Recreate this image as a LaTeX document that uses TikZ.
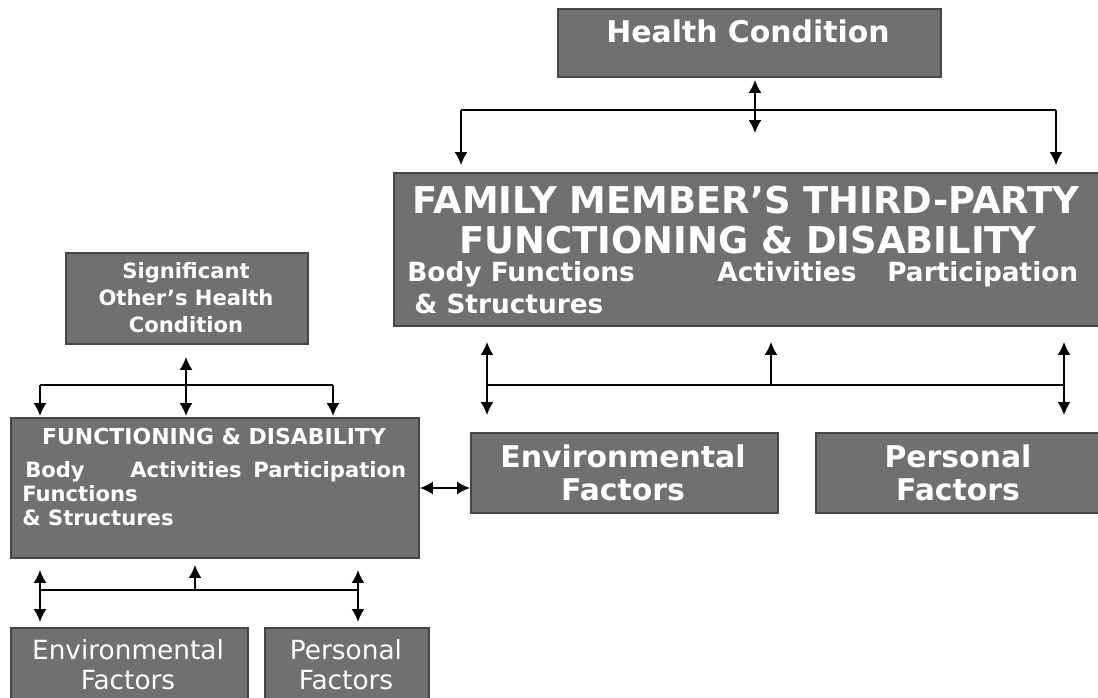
\documentclass[tikz,border=0pt]{standalone}
\usepackage{fontspec}
\setmainfont{DejaVu Sans}
\usetikzlibrary{arrows.meta,calc}
\definecolor{boxfill}{RGB}{112,112,112}
\definecolor{boxline}{RGB}{70,70,70}
\begin{document}
\begin{tikzpicture}[x=0.02cm,y=-0.02cm,
  box/.style={draw=boxline,line width=0.04cm,fill=boxfill,inner sep=0pt,anchor=north west},
  txt/.style={text=white,inner sep=0pt},
  conn/.style={line width=0.035cm,black},
  tip/.style={-{Latex[length=0.26cm,width=0.26cm]}},
  tips/.style={{Latex[length=0.26cm,width=0.26cm]}-{Latex[length=0.26cm,width=0.26cm]}}]
\useasboundingbox (0,0) rectangle (1098,697);
% boxes
\node[box,minimum width=7.66cm,minimum height=1.36cm] (hc) at (557,8) {};
\node[box,minimum width=14.14cm,minimum height=3.06cm] (fam) at (393,172) {};
\node[box,minimum width=4.84cm,minimum height=1.82cm] (sig) at (65,252) {};
\node[box,minimum width=8.16cm,minimum height=2.8cm] (fdl) at (10,417) {};
\node[box,minimum width=6.14cm,minimum height=1.6cm] (envr) at (470,432) {};
\node[box,minimum width=5.8cm,minimum height=1.6cm] (perr) at (815,432) {};
\node[box,minimum width=4.74cm,minimum height=1.5cm] (envl) at (10,627) {};
\node[box,minimum width=3.28cm,minimum height=1.5cm] (perl) at (264,627) {};
% texts
\node[txt,font=\bfseries\fontsize{17}{20}\selectfont] (hct) at (748,31) {Health Condition};
\node[txt,font=\bfseries\fontsize{21}{24}\selectfont] (fam1) at (746,200) {FAMILY MEMBER’S THIRD-PARTY};
\node[txt,font=\bfseries\fontsize{21}{24}\selectfont] (fam2) at (748,240) {FUNCTIONING \& DISABILITY};
\node[txt,font=\bfseries\fontsize{15}{18}\selectfont,anchor=base west] (fam3) at (407,281) {Body Functions};
\node[txt,font=\bfseries\fontsize{15}{18}\selectfont,anchor=base west] (fam4) at (717,281) {Activities};
\node[txt,font=\bfseries\fontsize{15}{18}\selectfont,anchor=base west] (fam5) at (887,281) {Participation};
\node[txt,font=\bfseries\fontsize{15}{18}\selectfont,anchor=base west] (fam6) at (414,313) {\& Structures};
\node[txt,font=\bfseries\fontsize{12}{15.3}\selectfont,align=center] (sigt) at (186,298) {Significant\\Other’s Health\\Condition};
\node[txt,font=\bfseries\fontsize{12.5}{15}\selectfont] (fdl1) at (214,436) {FUNCTIONING \& DISABILITY};
\node[txt,font=\bfseries\fontsize{12}{15}\selectfont,anchor=base west] (fdl2) at (25,477) {Body};
\node[txt,font=\bfseries\fontsize{12}{15}\selectfont,anchor=base west] (fdl3) at (130,477) {Activities};
\node[txt,font=\bfseries\fontsize{12}{15}\selectfont,anchor=base west] (fdl4) at (253,477) {Participation};
\node[txt,font=\bfseries\fontsize{12}{15}\selectfont,anchor=base west] (fdl5) at (22,501) {Functions};
\node[txt,font=\bfseries\fontsize{12}{15}\selectfont,anchor=base west] (fdl6) at (22,525) {\& Structures};
\node[txt,font=\bfseries\fontsize{17}{18.7}\selectfont,align=center] (envrt) at (623,473) {Environmental\\Factors};
\node[txt,font=\bfseries\fontsize{17}{18.7}\selectfont,align=center] (perrt) at (958,473) {Personal\\Factors};
\node[txt,font=\fontsize{15}{17}\selectfont,align=center] (envlt) at (128,665) {Environmental\\Factors};
\node[txt,font=\fontsize{15}{17}\selectfont,align=center] (perlt) at (346,665) {Personal\\Factors};
% junction coordinates
\coordinate (j1m) at (755,110);
\coordinate (j1l) at (461,110);
\coordinate (j1r) at (1056,110);
\coordinate (j2l) at (487,385);
\coordinate (j2m) at (771,385);
\coordinate (j2r) at (1064,385);
\coordinate (j3l) at (40,385);
\coordinate (j3m) at (186,385);
\coordinate (j3r) at (333,385);
\coordinate (j4l) at (40,590);
\coordinate (j4m) at (195,590);
\coordinate (j4r) at (358,590);
% health condition connectors
\draw[conn,tips,shorten <=0.04cm] (hc.south -| j1m) -- ($(j1m)+(0,23)$);
\draw[conn] (j1l) -- (j1r);
\draw[conn,tip,shorten >=0.14cm] (j1l) -- (fam.north -| j1l);
\draw[conn,tip,shorten >=0.14cm] (j1r) -- (fam.north -| j1r);
% family member box connectors
\draw[conn,tips,shorten <=0.3cm,shorten >=0.34cm] (fam.south -| j2l) -- (envr.north -| j2l);
\draw[conn,tips,shorten <=0.3cm,shorten >=0.34cm] (fam.south -| j2r) -- (perr.north -| j2r);
\draw[conn,tip,shorten >=0.3cm] (j2m) -- (fam.south -| j2m);
\draw[conn] (j2l) -- (j2r);
% significant other connectors
\draw[conn,tips,shorten <=0.24cm,shorten >=0.02cm] (sig.south -| j3m) -- (fdl.north -| j3m);
\draw[conn] (j3l) -- (j3r);
\draw[conn,tip,shorten >=0.02cm] (j3l) -- (fdl.north -| j3l);
\draw[conn,tip,shorten >=0.02cm] (j3r) -- (fdl.north -| j3r);
% left FD to env right
\draw[conn,tips] (fdl.east) -- (envr.west |- fdl.east);
% left bottom connectors
\draw[conn,tips,shorten <=0.22cm,shorten >=0.1cm] (fdl.south -| j4l) -- (envl.north -| j4l);
\draw[conn,tips,shorten <=0.22cm,shorten >=0.1cm] (fdl.south -| j4r) -- (perl.north -| j4r);
\draw[conn,tip,shorten >=0.12cm] (j4m) -- (fdl.south -| j4m);
\draw[conn] (j4l) -- (j4r);
\end{tikzpicture}
\end{document}
